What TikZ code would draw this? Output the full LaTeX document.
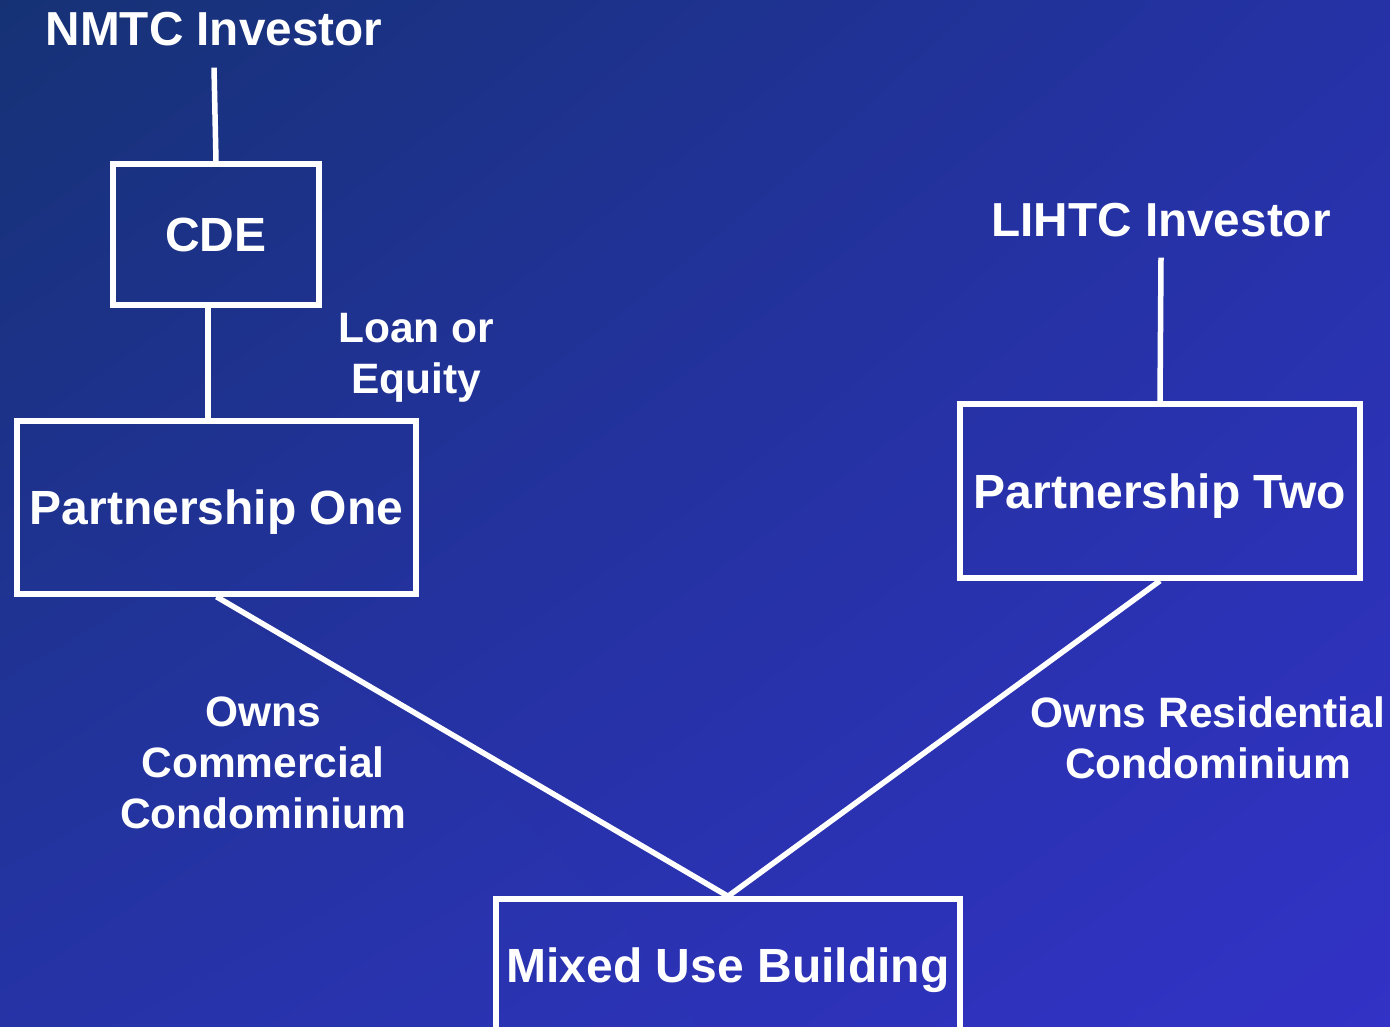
\documentclass[tikz,border=0pt]{standalone}
\usepackage{fontspec}
\setmainfont{Liberation Sans}
\usetikzlibrary{shadings}
\begin{document}
\definecolor{bgUL}{HTML}{163275}
\definecolor{bgUR}{HTML}{2532A6}
\definecolor{bgLL}{HTML}{2533A6}
\definecolor{bgLR}{HTML}{3232C6}
\begin{tikzpicture}[x=1bp,y=-1bp,
  wire/.style={draw=white,line width=5.5bp},
  entity/.style={draw=white,line width=5.5bp,rectangle,inner sep=0pt,
    text=white,font=\fontsize{48bp}{56bp}\selectfont\bfseries,
    text height=34bp,text depth=0pt},
  title/.style={text=white,inner sep=0pt,anchor=base,
    font=\fontsize{47.7bp}{56bp}\selectfont\bfseries},
  note/.style={text=white,inner sep=0pt,anchor=north,align=center,
    font=\fontsize{42.5bp}{51bp}\selectfont\bfseries}]
  % background
  \useasboundingbox (0,0) rectangle (1390,1026);
  \shade[upper left=bgUL,upper right=bgUR,lower left=bgLL,lower right=bgLR]
    (0,0) rectangle (1390,1026);

  % investors
  \node[title] (nmtc) at (214,45) {NMTC Investor};
  \node[title] (lihtc) at (1161,236) {LIHTC Investor};

  % entities
  \node[entity,minimum width=206bp,minimum height=141bp] (cde) at (216,234.5) {CDE};
  \node[entity,minimum width=399bp,minimum height=173bp] (p1) at (216.5,507.5) {Partnership One};
  \node[entity,minimum width=400bp,minimum height=174bp] (p2) at (1160,491) {Partnership Two};
  \node[entity,minimum width=464bp,minimum height=132bp] (mub) at (728,965) {Mixed Use Building};

  % connectors
  \draw[wire] ([yshift=-22bp]nmtc.south) -- (cde.north);
  \draw[wire] ([xshift=-8bp]cde.south) -- ([xshift=-8bp]cde.south |- p1.north);
  \draw[wire] ([yshift=-21bp]lihtc.south) -- (p2.north);
  \draw[wire] (p1.south) -- (mub.north);
  \draw[wire] (p2.south) -- (mub.north);

  % labels
  \node[note] (loan) at (416,313.5) {Loan or\\Equity};
  \node[note] (owncom) at (263,696.5) {Owns\\Commercial\\Condominium};
  \node[note] (ownres) at (1208,696.5) {Owns Residential\\Condominium};
\end{tikzpicture}
\end{document}
